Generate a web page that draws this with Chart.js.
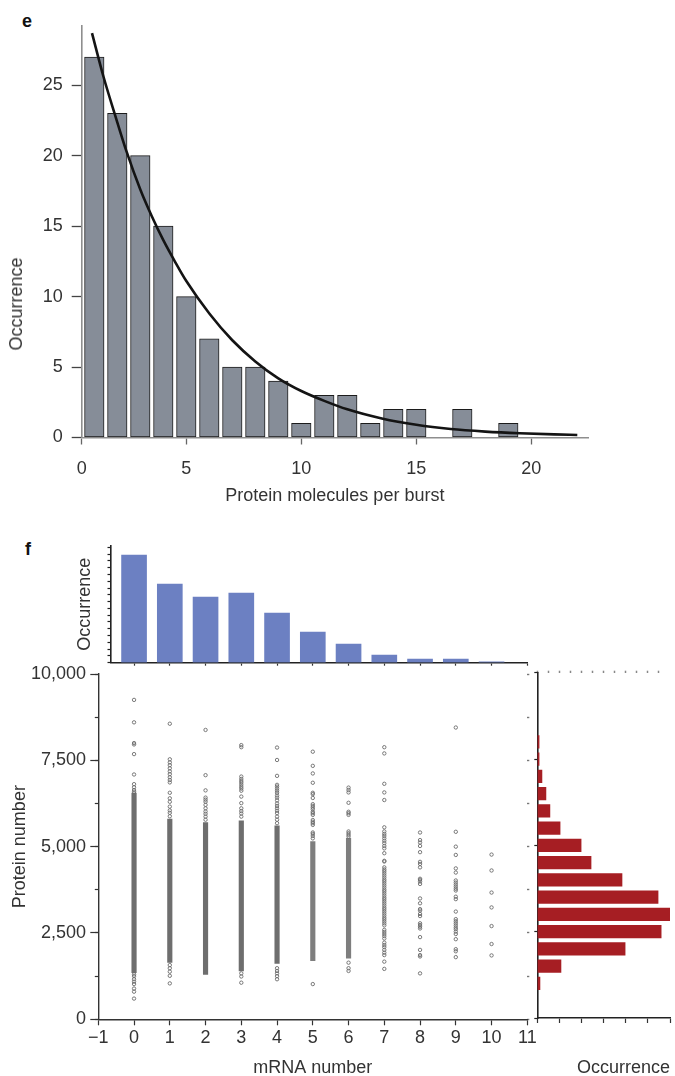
<!DOCTYPE html>
<html><head><meta charset="utf-8">
<script src="https://cdn.jsdelivr.net/npm/chart.js@4.4.1/dist/chart.umd.min.js"></script>
<style>
html,body{margin:0;padding:0;background:#fff;}
body{position:relative;width:675px;height:1076px;overflow:hidden;}
canvas{position:absolute;}
.panel{position:absolute;font:bold 18px "Liberation Sans",Arial,sans-serif;color:#111;line-height:1;}
.vtitle{position:absolute;font:18px "Liberation Sans",Arial,sans-serif;color:#333;line-height:1;white-space:nowrap;transform:translate(-50%,-50%) rotate(-90deg);}
</style></head>
<body>
<div class="panel" style="left:22px;top:12px">e</div>
<div class="panel" style="left:25px;top:540px">f</div>
<canvas id="cE" width="600" height="520" style="left:0;top:0"></canvas>
<div class="vtitle" style="left:16px;top:304px">Occurrence</div>
<canvas id="cTop" width="540" height="145" style="left:0;top:530px"></canvas>
<canvas id="cScatter" width="540" height="425" style="left:0;top:655px"></canvas>
<canvas id="cRight" width="145" height="420" style="left:530px;top:660px"></canvas>
<script>
// ---------- Panel e data ----------
const burstBins   = [1,2,3,4,5,6,7,8,9,10,11,12,13,14,15,16,17,18,19];
const burstCounts = [27,23,20,15,10,7,5,5,4,1,3,3,1,2,2,0,2,0,1];
const fitX = [0.9,1.4,1.9,2.4,3,3.5,4,4.5,5,6,7,8,9,10,11,12,13.5,15,16.5,18,19.5,21,22];
const fitY = [28.7,25.6,22.9,20.3,17.6,15.7,14.0,12.5,11.1,8.8,6.9,5.4,4.2,3.3,2.6,2.0,1.35,0.9,0.6,0.42,0.3,0.22,0.18];
const eXTicks = [0,5,10,15,20];
const eYTicks = [0,5,10,15,20,25];

// ---------- Panel f data ----------
const mrnaNumbers    = [0,1,2,3,4,5,6,7,8,9,10];
const mrnaOccurrence = [7.94,5.80,4.84,5.13,3.66,2.26,1.38,0.57,0.27,0.27,0.06];
const proteinBins       = [1000,1500,2000,2500,3000,3500,4000,4500,5000,5500,6000,6500,7000,7500,8000];
const proteinOccurrence = [0.12,1.07,3.97,5.60,6.00,5.46,3.83,2.43,1.98,1.03,0.57,0.39,0.21,0.08,0.08];
const fXTicks = [-1,0,1,2,3,4,5,6,7,8,9,10,11];
const fYTicks = [0,2500,5000,7500,10000];
const fYMinorTicks = [0,1250,2500,3750,5000,6250,7500,8750,10000];
const topYTicks = [0,0.5,1,1.5,2,2.5,3,3.5,4,4.5,5,5.5,6,6.5,7,7.5,8,8.5];
const rightXTicks = [0,1,2,3,4,5,6];
const rightTopTicks = [0,0.5,1,1.5,2,2.5,3,3.5,4,4.5,5,5.5];

// dense (unresolvable) part of each mRNA column: protein range
const denseLow  = [1350,1650,1300,1400,1620,1700,1770];
const denseHigh = [6550,5800,5700,5750,5600,5150,5240];
// individually visible cells per mRNA number (protein number)
const protein0 = [9250,8600,8000,7960,7680,7090,6810,6720,6640,6590,1300,1250,1160,1090,1020,890,800,600];
const protein1 = [8560,7530,7440,7360,7270,7180,7100,7010,6930,6860,6560,6400,6300,6160,6050,5980,5880,1570,1480,1380,1260,1040];
const protein2 = [8380,7070,6630,6420,6360,6300,6210,6110,6020,5950,5870,5780];
const protein3 = [7940,7880,7030,6960,6900,6850,6790,6730,6680,6620,6450,6260,6110,6030,5960,5870,1330,1240,1060];
const protein4 = [7870,7510,7050,6790,6740,6680,6620,6560,6480,6420,6340,6250,6180,6110,6040,5970,5870,5780,5680,1480,1400,1330,1250,1160];
const protein5 = [7750,7340,7120,6850,6560,6520,6410,6230,6180,6130,6080,6010,5970,5920,5770,5720,5680,5630,5410,5370,5310,5240,1020];
const protein6 = [6710,6640,6570,6270,6010,5970,5920,5440,5390,5340,5290,1640,1480,1400];
const protein7 = [7880,7700,6820,6570,6350,5560,5440,5370,5310,5240,5170,5100,5020,4950,4810,4590,4570,4400,4340,4290,4230,4170,4110,4050,4000,3940,3880,3820,3760,3710,3650,3590,3530,3480,3420,3360,3300,3240,3190,3130,3070,3010,2950,2900,2840,2780,2720,2590,2530,2470,2410,2340,2220,2150,2090,2010,1930,1860,1670,1460];
const protein8 = [5410,5190,5120,5020,4840,4560,4500,4400,4070,4040,3990,3920,3500,3360,3190,3150,3050,2990,2780,2730,2680,2630,2380,2010,1860,1820,1330];
const protein9 = [8450,5430,5000,4760,4370,4250,4020,3960,3900,3840,3780,3730,3550,3480,3120,2900,2840,2780,2720,2660,2610,2540,2470,2320,2030,1970,1800];
const protein10 = [4770,4310,3670,3240,2700,2180,1850];

// ---------- common ----------
const FONT = '"Liberation Sans", Arial, sans-serif';
Chart.defaults.font.family = FONT;
Chart.defaults.font.size = 18;
Chart.defaults.color = '#333';
const base = {responsive:false, animation:false, events:[],
  plugins:{legend:{display:false}, tooltip:{enabled:false}}};
const setTicks = arr => s => { s.ticks = arr.filter(v => v >= s.min - 1e-9 && v <= s.max + 1e-9).map(v => ({value:v})); };

// ---------- Panel e ----------
new Chart(document.getElementById('cE'), {
  type:'bar',
  data:{datasets:[
    {type:'line', data: fitX.map((x,i)=>({x:x, y:fitY[i]})), borderColor:'#141414', borderWidth:2.6,
     pointRadius:0, cubicInterpolationMode:'monotone', order:0},
    {type:'bar', data: burstBins.map((b,i)=>({x:b, y:burstCounts[i]})), backgroundColor:'#868d98',
     borderColor:'#1c1c1c', borderWidth:1, borderSkipped:false, barThickness:19.5, order:1}
  ]},
  options:Object.assign({}, base, {
    layout:{padding:{left:0, top:26, right:12, bottom:0}},
    scales:{
      x:{type:'linear', min:0.452, max:22.465, offset:false,
        afterBuildTicks:s=>{ s.ticks = eXTicks.map(v=>({value:Math.max(v, s.min)})); },
        afterFit:s=>{ s.height = 82.5; },
        ticks:{autoSkip:false, maxRotation:0, padding:14, callback:(v,i)=>String(eXTicks[i])},
        grid:{offset:false, drawOnChartArea:false, tickLength:7, tickColor:'#666', tickWidth:1.3},
        border:{color:'#8e8e8e', width:1.6},
        title:{display:true, text:'Protein molecules per burst', padding:{top:0, bottom:13}}},
      y:{type:'linear', min:0, max:29.2,
        afterBuildTicks:setTicks(eYTicks),
        afterFit:s=>{ s.width = 81.7; },
        ticks:{padding:9, autoSkip:false},
        grid:{drawOnChartArea:false, tickLength:10, tickColor:'#444', tickWidth:1.3},
        border:{color:'#8e8e8e', width:1.6}}
    }
  })
});

// ---------- Panel f: top histogram ----------
new Chart(document.getElementById('cTop'), {
  type:'bar',
  data:{datasets:[{data: mrnaNumbers.map((m,i)=>({x:m, y:mrnaOccurrence[i]})),
    backgroundColor:'#6c80c2', barThickness:25}]},
  options:Object.assign({}, base, {
    layout:{padding:{left:0, top:16, right:12.7, bottom:0}},
    scales:{
      x:{type:'linear', min:-0.645, max:11, offset:false,
        afterBuildTicks:setTicks(fXTicks),
        afterFit:s=>{ s.height = 12.3; },
        ticks:{display:false},
        grid:{offset:false, drawOnChartArea:false, tickLength:3, tickColor:'#333', tickWidth:1.2},
        border:{color:'#222', width:1.6}},
      y:{type:'linear', min:0, max:8.6,
        afterBuildTicks:setTicks(topYTicks),
        afterFit:s=>{ s.width = 111; },
        ticks:{display:false},
        grid:{drawOnChartArea:false, tickLength:3.5, tickColor:'#222', tickWidth:1.2},
        border:{color:'#222', width:1.6},
        title:{display:true, text:'Occurrence', padding:{top:74, bottom:0}}}
    }
  })
});

// ---------- Panel f: scatter ----------
const columns = [protein0,protein1,protein2,protein3,protein4,protein5,protein6,protein7,protein8,protein9,protein10];
const points = [];
columns.forEach((arr,m)=>arr.forEach(p=>points.push({x:m, y:p})));
const bands = denseLow.map((lo,i)=>({x:mrnaNumbers[i], y:[lo, denseHigh[i]]}));
const fmtX = v => v < 0 ? '\u2212' + Math.abs(v) : String(v);

new Chart(document.getElementById('cScatter'), {
  type:'scatter',
  data:{datasets:[
    {type:'scatter', data:points, pointRadius:1.7, pointBorderWidth:0.9, borderColor:'#6b6b6b',
     backgroundColor:'rgba(255,255,255,0)', xAxisID:'x', yAxisID:'y', order:0},
    {type:'bar', data:bands, backgroundColor:ctx=> ctx.dataIndex >= 5 ? '#7e7e7e' : '#6e6e6e',
     barThickness:4.5, xAxisID:'x', yAxisID:'y', order:1}
  ]},
  options:Object.assign({}, base, {
    layout:{padding:{left:0, top:19, right:9.7, bottom:0}},
    scales:{
      x:{type:'linear', min:-1, max:11, offset:false,
        afterBuildTicks:setTicks(fXTicks),
        afterFit:s=>{ s.height = 60.7; },
        ticks:{padding:2, autoSkip:false, maxRotation:0, callback:(v,i)=>fmtX(fXTicks[i])},
        grid:{offset:false, drawOnChartArea:false, tickLength:6, tickColor:'#333', tickWidth:1.2},
        border:{color:'#333', width:1.4},
        title:{display:true, text:'mRNA number', padding:{top:0, bottom:1.2}}},
      y:{type:'linear', position:'left', min:0, max:10000, weight:1,
        afterBuildTicks:setTicks(fYTicks),
        afterFit:s=>{ s.width = 98.3; },
        ticks:{padding:4.3, autoSkip:false, callback:(v,i)=>fYTicks[i].toLocaleString('en-US')},
        grid:{drawOnChartArea:false, tickLength:8, tickColor:'#333', tickWidth:1.2},
        border:{color:'#333', width:1.4},
        title:{display:true, text:'Protein number', padding:{top:8.8, bottom:0}}},
      yMinor:{type:'linear', position:'left', min:0, max:10000, weight:0,
        afterBuildTicks:setTicks(fYMinorTicks),
        afterFit:s=>{ s.width = 0; },
        ticks:{display:false},
        grid:{drawOnChartArea:false, tickLength:3.5, tickColor:'#333', tickWidth:1.2},
        border:{display:false}},
      yRight:{type:'linear', position:'right', min:0, max:10000,
        afterBuildTicks:setTicks(fYMinorTicks),
        afterFit:s=>{ s.width = 3; },
        ticks:{display:false},
        grid:{drawOnChartArea:false, tickLength:2, tickColor:'#777', tickWidth:1.4},
        border:{display:false}}
    }
  })
});

// ---------- Panel f: right histogram ----------
new Chart(document.getElementById('cRight'), {
  type:'bar',
  data:{datasets:[{data: proteinBins.map((b,i)=>({x:proteinOccurrence[i], y:b})),
    backgroundColor:'#a61e23', barThickness:12.6, xAxisID:'x', yAxisID:'y'}]},
  options:Object.assign({}, base, {
    indexAxis:'y',
    layout:{padding:{left:0, top:10.7, right:5, bottom:0}},
    scales:{
      x:{type:'linear', position:'bottom', min:0, max:6,
        afterBuildTicks:setTicks(rightXTicks),
        afterFit:s=>{ s.height = 62; },
        ticks:{display:false},
        grid:{drawOnChartArea:false, tickLength:5, tickColor:'#333', tickWidth:1.2},
        border:{color:'#222', width:1.6},
        title:{display:true, text:'Occurrence', align:'end', padding:{top:0, bottom:1.2}}},
      xTop:{type:'linear', position:'top', min:0, max:6,
        afterBuildTicks:setTicks(rightTopTicks),
        afterFit:s=>{ s.height = 2; },
        ticks:{display:false},
        grid:{drawOnChartArea:false, tickLength:2, tickColor:'#888', tickWidth:1.5},
        border:{display:false}},
      y:{type:'linear', min:0, max:10000, offset:false,
        afterBuildTicks:setTicks(fYTicks),
        afterFit:s=>{ s.width = 7.3; },
        ticks:{display:false},
        grid:{offset:false, drawOnChartArea:false, tickLength:3, tickColor:'#222', tickWidth:1.2},
        border:{color:'#222', width:1.6}}
    }
  })
});
</script>
</body></html>
